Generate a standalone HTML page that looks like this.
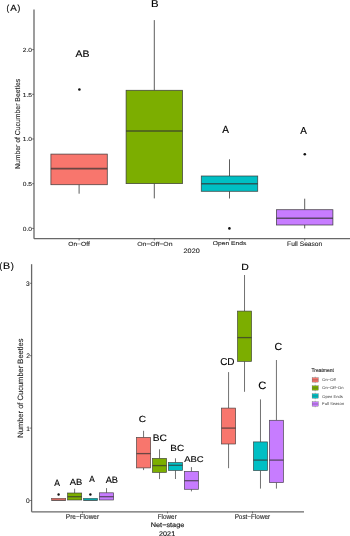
<!DOCTYPE html>
<html><head><meta charset="utf-8"><style>
html,body{margin:0;padding:0;background:#fff;width:350px;height:536px;overflow:hidden}
svg{display:block;will-change:transform}
text{font-family:"Liberation Sans",sans-serif;fill:#000;text-rendering:geometricPrecision}
.sm{stroke:#222;stroke-width:0.1px;fill:#222}
.lg{stroke:#000;stroke-width:0.15px}
</style></head><body>
<svg width="350" height="536" viewBox="0 0 350 536">
<text x="6.57" y="10.71" font-size="8.77" textLength="2.64" lengthAdjust="spacingAndGlyphs" class="lg" >(</text>
<text x="10.15" y="10.55" font-size="8.84" textLength="6.52" lengthAdjust="spacingAndGlyphs" class="lg" >A</text>
<text x="17.41" y="10.71" font-size="8.77" textLength="2.76" lengthAdjust="spacingAndGlyphs" class="lg" >)</text>
<line x1="34" y1="9.6" x2="34" y2="238.7" stroke="#686868" stroke-width="1.3"/>
<line x1="34" y1="238.7" x2="350" y2="238.7" stroke="#686868" stroke-width="1.3"/>
<line x1="32" y1="228.4" x2="34" y2="228.4" stroke="#333" stroke-width="0.6"/>
<text x="22.77" y="230.84" font-size="5.90" textLength="9.27" lengthAdjust="spacingAndGlyphs" class="sm" >0.0</text>
<line x1="32" y1="183.7" x2="34" y2="183.7" stroke="#333" stroke-width="0.6"/>
<text x="22.80" y="186.14" font-size="5.90" textLength="9.27" lengthAdjust="spacingAndGlyphs" class="sm" >0.5</text>
<line x1="32" y1="139.0" x2="34" y2="139.0" stroke="#333" stroke-width="0.6"/>
<text x="22.77" y="141.44" font-size="5.90" textLength="9.27" lengthAdjust="spacingAndGlyphs" class="sm" >1.0</text>
<line x1="32" y1="94.29999999999998" x2="34" y2="94.29999999999998" stroke="#333" stroke-width="0.6"/>
<text x="22.80" y="96.71" font-size="5.90" textLength="9.27" lengthAdjust="spacingAndGlyphs" class="sm" >1.5</text>
<line x1="32" y1="49.599999999999994" x2="34" y2="49.599999999999994" stroke="#333" stroke-width="0.6"/>
<text x="22.77" y="52.04" font-size="5.90" textLength="9.27" lengthAdjust="spacingAndGlyphs" class="sm" >2.0</text>
<text transform="translate(20.28,169.00) rotate(-90)" font-size="7.21" textLength="90.17" lengthAdjust="spacingAndGlyphs" class="sm">Number of Cucumber Beetles</text>
<line x1="79.1" y1="184.7" x2="79.1" y2="193.7" stroke="#333333" stroke-width="0.8"/>
<rect x="50.89999999999999" y="154.1" width="56.4" height="30.599999999999994" fill="#F8766D" stroke="#333333" stroke-opacity="0.85" stroke-width="0.8"/>
<line x1="50.89999999999999" y1="168.6" x2="107.3" y2="168.6" stroke="#333333" stroke-opacity="0.72" stroke-width="1.6"/>
<line x1="154.3" y1="20.1" x2="154.3" y2="90.3" stroke="#333333" stroke-width="0.8"/>
<line x1="154.3" y1="183.6" x2="154.3" y2="198.4" stroke="#333333" stroke-width="0.8"/>
<rect x="126.10000000000001" y="90.3" width="56.4" height="93.3" fill="#7CAE00" stroke="#333333" stroke-opacity="0.85" stroke-width="0.8"/>
<line x1="126.10000000000001" y1="131.0" x2="182.5" y2="131.0" stroke="#333333" stroke-opacity="0.72" stroke-width="1.6"/>
<line x1="229.5" y1="159.3" x2="229.5" y2="176.0" stroke="#333333" stroke-width="0.8"/>
<line x1="229.5" y1="191.3" x2="229.5" y2="198.5" stroke="#333333" stroke-width="0.8"/>
<rect x="201.3" y="176.0" width="56.4" height="15.300000000000011" fill="#00BFC4" stroke="#333333" stroke-opacity="0.85" stroke-width="0.8"/>
<line x1="201.3" y1="183.8" x2="257.7" y2="183.8" stroke="#333333" stroke-opacity="0.72" stroke-width="1.6"/>
<line x1="304.7" y1="198.7" x2="304.7" y2="209.7" stroke="#333333" stroke-width="0.8"/>
<line x1="304.7" y1="225.0" x2="304.7" y2="228.4" stroke="#333333" stroke-width="0.8"/>
<rect x="276.5" y="209.7" width="56.4" height="15.300000000000011" fill="#C77CFF" stroke="#333333" stroke-opacity="0.85" stroke-width="0.8"/>
<line x1="276.5" y1="218.3" x2="332.9" y2="218.3" stroke="#333333" stroke-opacity="0.72" stroke-width="1.6"/>
<circle cx="79.4" cy="89.5" r="1.3" fill="#111"/>
<circle cx="229.4" cy="228.4" r="1.3" fill="#111"/>
<circle cx="304.8" cy="154.3" r="1.3" fill="#111"/>
<line x1="79.1" y1="238.7" x2="79.1" y2="240.5" stroke="#333" stroke-width="0.6"/>
<line x1="154.3" y1="238.7" x2="154.3" y2="240.5" stroke="#333" stroke-width="0.6"/>
<line x1="229.5" y1="238.7" x2="229.5" y2="240.5" stroke="#333" stroke-width="0.6"/>
<line x1="304.7" y1="238.7" x2="304.7" y2="240.5" stroke="#333" stroke-width="0.6"/>
<text x="68.25" y="245.69" font-size="6.12" textLength="21.49" lengthAdjust="spacingAndGlyphs" class="sm" >On−Off</text>
<text x="137.24" y="245.69" font-size="5.85" textLength="35.26" lengthAdjust="spacingAndGlyphs" class="sm" >On−Off−On</text>
<text x="212.85" y="245.18" font-size="5.56" textLength="33.42" lengthAdjust="spacingAndGlyphs" class="sm" >Open Ends</text>
<text x="287.12" y="245.68" font-size="6.53" textLength="35.17" lengthAdjust="spacingAndGlyphs" class="sm" >Full Season</text>
<text x="183.59" y="252.99" font-size="6.34" textLength="16.11" lengthAdjust="spacingAndGlyphs" class="sm" style="stroke-width:0.12px">2020</text>
<text x="75.45" y="57.15" font-size="9.57" textLength="13.97" lengthAdjust="spacingAndGlyphs" class="lg" >AB</text>
<text x="150.94" y="6.95" font-size="10.00" textLength="7.61" lengthAdjust="spacingAndGlyphs" class="lg" >B</text>
<text x="222.15" y="132.65" font-size="10.29" textLength="6.72" lengthAdjust="spacingAndGlyphs" class="lg" >A</text>
<text x="300.35" y="134.15" font-size="10.14" textLength="6.62" lengthAdjust="spacingAndGlyphs" class="lg" >A</text>
<text x="-0.53" y="268.97" font-size="9.41" textLength="2.64" lengthAdjust="spacingAndGlyphs" class="lg" >(</text>
<text x="3.00" y="269.35" font-size="9.42" textLength="7.11" lengthAdjust="spacingAndGlyphs" class="lg" >B</text>
<text x="10.80" y="268.97" font-size="9.41" textLength="3.14" lengthAdjust="spacingAndGlyphs" class="lg" >)</text>
<line x1="31.6" y1="264.2" x2="31.6" y2="511.8" stroke="#686868" stroke-width="1.3"/>
<line x1="31.6" y1="511.8" x2="304" y2="511.8" stroke="#686868" stroke-width="1.3"/>
<line x1="29.6" y1="500.5" x2="31.6" y2="500.5" stroke="#333" stroke-width="0.6"/>
<text x="26.07" y="502.98" font-size="6.60" textLength="3.67" lengthAdjust="spacingAndGlyphs" class="sm" >0</text>
<line x1="29.6" y1="428.1" x2="31.6" y2="428.1" stroke="#333" stroke-width="0.6"/>
<text x="26.13" y="430.58" font-size="6.60" textLength="3.67" lengthAdjust="spacingAndGlyphs" class="sm" >1</text>
<line x1="29.6" y1="355.7" x2="31.6" y2="355.7" stroke="#333" stroke-width="0.6"/>
<text x="26.17" y="358.21" font-size="6.60" textLength="3.67" lengthAdjust="spacingAndGlyphs" class="sm" >2</text>
<line x1="29.6" y1="283.29999999999995" x2="31.6" y2="283.29999999999995" stroke="#333" stroke-width="0.6"/>
<text x="26.10" y="285.78" font-size="6.60" textLength="3.67" lengthAdjust="spacingAndGlyphs" class="sm" >3</text>
<text transform="translate(22.67,437.75) rotate(-90)" font-size="7.76" textLength="99.25" lengthAdjust="spacingAndGlyphs" class="sm">Number of Cucumber Beetles</text>
<rect x="51.625" y="498.3" width="14.1" height="2.099999999999966" fill="#F8766D" stroke="#333333" stroke-opacity="0.85" stroke-width="0.55"/>
<line x1="51.625" y1="500.2" x2="65.725" y2="500.2" stroke="#333333" stroke-opacity="0.72" stroke-width="0.9"/>
<line x1="74.625" y1="488.7" x2="74.625" y2="493.0" stroke="#333333" stroke-width="0.7"/>
<rect x="67.575" y="493.0" width="14.1" height="7.0" fill="#7CAE00" stroke="#333333" stroke-opacity="0.85" stroke-width="0.7"/>
<line x1="67.575" y1="496.7" x2="81.675" y2="496.7" stroke="#333333" stroke-opacity="0.72" stroke-width="1.3"/>
<rect x="83.52499999999999" y="498.3" width="14.1" height="2.099999999999966" fill="#00BFC4" stroke="#333333" stroke-opacity="0.85" stroke-width="0.55"/>
<line x1="83.52499999999999" y1="500.2" x2="97.62499999999999" y2="500.2" stroke="#333333" stroke-opacity="0.72" stroke-width="0.9"/>
<line x1="106.52499999999999" y1="488.1" x2="106.52499999999999" y2="492.8" stroke="#333333" stroke-width="0.7"/>
<rect x="99.475" y="492.8" width="14.1" height="7.199999999999989" fill="#C77CFF" stroke="#333333" stroke-opacity="0.85" stroke-width="0.7"/>
<line x1="99.475" y1="496.7" x2="113.57499999999999" y2="496.7" stroke="#333333" stroke-opacity="0.72" stroke-width="1.3"/>
<circle cx="58.6" cy="494.5" r="1.2" fill="#111"/>
<circle cx="90.4" cy="494.5" r="1.2" fill="#111"/>
<line x1="143.575" y1="430.8" x2="143.575" y2="437.4" stroke="#333333" stroke-width="0.7"/>
<line x1="143.575" y1="467.9" x2="143.575" y2="470.1" stroke="#333333" stroke-width="0.7"/>
<rect x="136.52499999999998" y="437.4" width="14.1" height="30.5" fill="#F8766D" stroke="#333333" stroke-opacity="0.85" stroke-width="0.7"/>
<line x1="136.52499999999998" y1="453.6" x2="150.625" y2="453.6" stroke="#333333" stroke-opacity="0.72" stroke-width="1.3"/>
<line x1="159.525" y1="449.3" x2="159.525" y2="458.4" stroke="#333333" stroke-width="0.7"/>
<line x1="159.525" y1="472.4" x2="159.525" y2="479.1" stroke="#333333" stroke-width="0.7"/>
<rect x="152.475" y="458.4" width="14.1" height="14.0" fill="#7CAE00" stroke="#333333" stroke-opacity="0.85" stroke-width="0.7"/>
<line x1="152.475" y1="465.6" x2="166.57500000000002" y2="465.6" stroke="#333333" stroke-opacity="0.72" stroke-width="1.3"/>
<line x1="175.475" y1="458.3" x2="175.475" y2="462.5" stroke="#333333" stroke-width="0.7"/>
<line x1="175.475" y1="470.4" x2="175.475" y2="479.0" stroke="#333333" stroke-width="0.7"/>
<rect x="168.42499999999998" y="462.5" width="14.1" height="7.899999999999977" fill="#00BFC4" stroke="#333333" stroke-opacity="0.85" stroke-width="0.7"/>
<line x1="168.42499999999998" y1="465.3" x2="182.525" y2="465.3" stroke="#333333" stroke-opacity="0.72" stroke-width="1.3"/>
<line x1="191.425" y1="467.1" x2="191.425" y2="471.4" stroke="#333333" stroke-width="0.7"/>
<line x1="191.425" y1="489.3" x2="191.425" y2="491.4" stroke="#333333" stroke-width="0.7"/>
<rect x="184.375" y="471.4" width="14.1" height="17.900000000000034" fill="#C77CFF" stroke="#333333" stroke-opacity="0.85" stroke-width="0.7"/>
<line x1="184.375" y1="480.7" x2="198.47500000000002" y2="480.7" stroke="#333333" stroke-opacity="0.72" stroke-width="1.3"/>
<line x1="228.575" y1="372.1" x2="228.575" y2="408.1" stroke="#333333" stroke-width="0.7"/>
<line x1="228.575" y1="444.0" x2="228.575" y2="468.2" stroke="#333333" stroke-width="0.7"/>
<rect x="221.52499999999998" y="408.1" width="14.1" height="35.89999999999998" fill="#F8766D" stroke="#333333" stroke-opacity="0.85" stroke-width="0.7"/>
<line x1="221.52499999999998" y1="428.1" x2="235.625" y2="428.1" stroke="#333333" stroke-opacity="0.72" stroke-width="1.3"/>
<line x1="244.525" y1="275.0" x2="244.525" y2="311.1" stroke="#333333" stroke-width="0.7"/>
<line x1="244.525" y1="361.4" x2="244.525" y2="391.8" stroke="#333333" stroke-width="0.7"/>
<rect x="237.475" y="311.1" width="14.1" height="50.299999999999955" fill="#7CAE00" stroke="#333333" stroke-opacity="0.85" stroke-width="0.7"/>
<line x1="237.475" y1="337.6" x2="251.57500000000002" y2="337.6" stroke="#333333" stroke-opacity="0.72" stroke-width="1.3"/>
<line x1="260.475" y1="399.4" x2="260.475" y2="441.9" stroke="#333333" stroke-width="0.7"/>
<line x1="260.475" y1="470.6" x2="260.475" y2="488.6" stroke="#333333" stroke-width="0.7"/>
<rect x="253.425" y="441.9" width="14.1" height="28.700000000000045" fill="#00BFC4" stroke="#333333" stroke-opacity="0.85" stroke-width="0.7"/>
<line x1="253.425" y1="460.1" x2="267.52500000000003" y2="460.1" stroke="#333333" stroke-opacity="0.72" stroke-width="1.3"/>
<line x1="276.425" y1="360.0" x2="276.425" y2="420.3" stroke="#333333" stroke-width="0.7"/>
<line x1="276.425" y1="482.6" x2="276.425" y2="488.6" stroke="#333333" stroke-width="0.7"/>
<rect x="269.375" y="420.3" width="14.1" height="62.30000000000001" fill="#C77CFF" stroke="#333333" stroke-opacity="0.85" stroke-width="0.7"/>
<line x1="269.375" y1="460.1" x2="283.475" y2="460.1" stroke="#333333" stroke-opacity="0.72" stroke-width="1.3"/>
<line x1="82.6" y1="511.6" x2="82.6" y2="513.4" stroke="#333" stroke-width="0.6"/>
<line x1="167.5" y1="511.6" x2="167.5" y2="513.4" stroke="#333" stroke-width="0.6"/>
<line x1="252.5" y1="511.6" x2="252.5" y2="513.4" stroke="#333" stroke-width="0.6"/>
<text x="65.83" y="518.78" font-size="6.94" textLength="33.22" lengthAdjust="spacingAndGlyphs" class="sm" >Pre−Flower</text>
<text x="157.74" y="518.78" font-size="6.94" textLength="19.01" lengthAdjust="spacingAndGlyphs" class="sm" >Flower</text>
<text x="234.64" y="518.78" font-size="6.94" textLength="35.51" lengthAdjust="spacingAndGlyphs" class="sm" >Post−Flower</text>
<text x="150.77" y="526.50" font-size="6.44" textLength="33.52" lengthAdjust="spacingAndGlyphs" class="sm" style="stroke-width:0.18px">Net−stage</text>
<text x="159.09" y="535.68" font-size="6.76" textLength="16.08" lengthAdjust="spacingAndGlyphs" class="sm" style="stroke-width:0.18px">2021</text>
<text x="54.15" y="485.65" font-size="9.28" textLength="5.72" lengthAdjust="spacingAndGlyphs" class="lg" >A</text>
<text x="69.85" y="484.75" font-size="8.84" textLength="12.51" lengthAdjust="spacingAndGlyphs" class="lg" >AB</text>
<text x="89.15" y="482.15" font-size="9.13" textLength="5.52" lengthAdjust="spacingAndGlyphs" class="lg" >A</text>
<text x="105.65" y="483.35" font-size="9.28" textLength="12.30" lengthAdjust="spacingAndGlyphs" class="lg" >AB</text>
<text x="138.85" y="421.96" font-size="8.87" textLength="7.28" lengthAdjust="spacingAndGlyphs" class="lg" >C</text>
<text x="152.84" y="441.36" font-size="9.30" textLength="14.11" lengthAdjust="spacingAndGlyphs" class="lg" >BC</text>
<text x="170.36" y="451.36" font-size="8.87" textLength="13.78" lengthAdjust="spacingAndGlyphs" class="lg" >BC</text>
<text x="184.25" y="461.77" font-size="8.31" textLength="19.44" lengthAdjust="spacingAndGlyphs" class="lg" >ABC</text>
<text x="241.32" y="270.15" font-size="9.13" textLength="7.53" lengthAdjust="spacingAndGlyphs" class="lg" >D</text>
<text x="220.15" y="365.35" font-size="10.00" textLength="14.39" lengthAdjust="spacingAndGlyphs" class="lg" >CD</text>
<text x="258.19" y="389.14" font-size="10.70" textLength="8.07" lengthAdjust="spacingAndGlyphs" class="lg" >C</text>
<text x="274.52" y="350.25" font-size="10.14" textLength="7.62" lengthAdjust="spacingAndGlyphs" class="lg" >C</text>
<text x="311.45" y="372.20" font-size="5.29" textLength="22.45" lengthAdjust="spacingAndGlyphs" class="sm" style="stroke-width:0.12px">Treatment</text>
<line x1="315.2" y1="376.59999999999997" x2="315.2" y2="383.2" stroke="#666" stroke-width="0.4"/>
<rect x="312.1" y="377.7" width="6.2" height="4.4" fill="#F8766D" stroke="#555" stroke-width="0.3"/>
<line x1="312.1" y1="379.9" x2="318.3" y2="379.9" stroke="#444" stroke-width="0.4"/>
<text x="322.26" y="381.11" font-size="4.00" textLength="13.38" lengthAdjust="spacingAndGlyphs" class="sm" style="fill:#3a3a3a;stroke:none">On−Off</text>
<line x1="315.2" y1="384.7" x2="315.2" y2="391.3" stroke="#666" stroke-width="0.4"/>
<rect x="312.1" y="385.8" width="6.2" height="4.4" fill="#7CAE00" stroke="#555" stroke-width="0.3"/>
<line x1="312.1" y1="388.0" x2="318.3" y2="388.0" stroke="#444" stroke-width="0.4"/>
<text x="322.26" y="389.21" font-size="4.00" textLength="21.26" lengthAdjust="spacingAndGlyphs" class="sm" style="fill:#3a3a3a;stroke:none">On−Off−On</text>
<line x1="315.2" y1="392.7" x2="315.2" y2="399.3" stroke="#666" stroke-width="0.4"/>
<rect x="312.1" y="393.8" width="6.2" height="4.4" fill="#00BFC4" stroke="#555" stroke-width="0.3"/>
<line x1="312.1" y1="396.0" x2="318.3" y2="396.0" stroke="#444" stroke-width="0.4"/>
<text x="322.27" y="397.51" font-size="4.00" textLength="20.52" lengthAdjust="spacingAndGlyphs" class="sm" style="fill:#3a3a3a;stroke:none">Open Ends</text>
<line x1="315.2" y1="400.7" x2="315.2" y2="407.3" stroke="#666" stroke-width="0.4"/>
<rect x="312.1" y="401.8" width="6.2" height="4.4" fill="#C77CFF" stroke="#555" stroke-width="0.3"/>
<line x1="312.1" y1="404.0" x2="318.3" y2="404.0" stroke="#444" stroke-width="0.4"/>
<text x="322.12" y="405.21" font-size="4.00" textLength="21.91" lengthAdjust="spacingAndGlyphs" class="sm" style="fill:#3a3a3a;stroke:none">Full Season</text>
</svg>
</body></html>
